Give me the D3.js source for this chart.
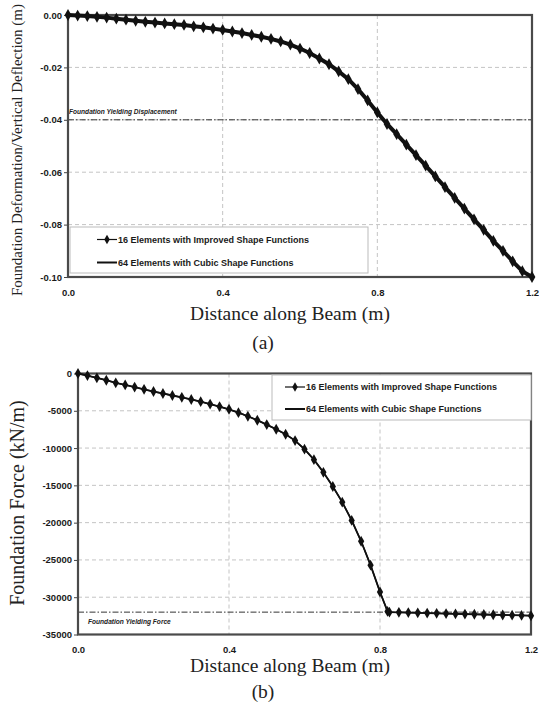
<!DOCTYPE html>
<html>
<head>
<meta charset="utf-8">
<script src="https://cdn.jsdelivr.net/npm/d3@7"></script>
<style>
  html, body { margin: 0; padding: 0; background: #fff; }
  svg { display: block; }
</style>
</head>
<body>
<svg id="chart" width="539" height="713"></svg>
<script>
// ---------------- DATA ----------------
const distanceA = [0, 0.025, 0.05, 0.075, 0.1, 0.125, 0.15, 0.175, 0.2, 0.225, 0.25, 0.275, 0.3, 0.325, 0.35, 0.375,
  0.4, 0.425, 0.45, 0.475, 0.5, 0.525, 0.55, 0.575, 0.6, 0.625, 0.65, 0.675, 0.7, 0.725, 0.75, 0.775,
  0.8, 0.825, 0.85, 0.875, 0.9, 0.925, 0.95, 0.975, 1.0, 1.025, 1.05, 1.075, 1.1, 1.125, 1.15, 1.175, 1.2];
const deflectionImproved = [0, -0.0002, -0.0004, -0.0007, -0.0010, -0.0014, -0.0018, -0.0022, -0.0026, -0.0029, -0.0032, -0.0035,
  -0.0038, -0.0043, -0.0047, -0.0052, -0.0057, -0.0063, -0.0069, -0.0076, -0.0083, -0.0091, -0.0101, -0.0113,
  -0.0128, -0.0145, -0.0166, -0.0188, -0.0215, -0.0245, -0.0283, -0.0326, -0.0372, -0.0416, -0.0455, -0.0495,
  -0.0535, -0.0575, -0.0616, -0.0657, -0.0698, -0.0739, -0.0780, -0.0820, -0.0862, -0.0900, -0.0940, -0.0978, -0.1000];
const deflectionCubic = deflectionImproved.slice();

const distanceB = [0, 0.025, 0.05, 0.075, 0.1, 0.125, 0.15, 0.175, 0.2, 0.225, 0.25, 0.275, 0.3, 0.325, 0.35, 0.375,
  0.4, 0.425, 0.45, 0.475, 0.5, 0.525, 0.55, 0.575, 0.6, 0.625, 0.65, 0.675, 0.7, 0.725, 0.75, 0.775,
  0.8, 0.82, 0.825, 0.85, 0.875, 0.9, 0.925, 0.95, 0.975, 1.0, 1.025, 1.05, 1.075, 1.1, 1.125, 1.15, 1.175, 1.2];
const forceImproved = [0, -280, -580, -900, -1250, -1530, -1820, -2120, -2420, -2680, -2950, -3200, -3480, -3780, -4100, -4440,
  -4800, -5250, -5730, -6270, -6850, -7480, -8150, -9000, -10150, -11550, -13250, -15150, -17250, -19700, -22500, -25700,
  -29300, -31900, -32000, -32030, -32060, -32100, -32130, -32160, -32200, -32230, -32260, -32290, -32320, -32350, -32380,
  -32410, -32440, -32480];
const forceCubic = forceImproved.slice();

const xTicks = [0, 0.4, 0.8, 1.2];
const yTicksA = [0, -0.02, -0.04, -0.06, -0.08, -0.10];
const yTicksB = [0, -5000, -10000, -15000, -20000, -25000, -30000, -35000];
const yieldDisplacement = -0.04;
const yieldForce = -32000;
const seriesNames = ["16 Elements with Improved Shape Functions", "64 Elements with Cubic Shape Functions"];

// ---------------- DRAW ----------------
const svg = d3.select("#chart");
const serif = "'Liberation Serif', 'Times New Roman', serif";
const sans = "'Liberation Sans', Arial, sans-serif";
const hy = f => d => f(d).replace("\u2212", "-");

function panel(cfg) {
  const g = svg.append("g");
  const x = d3.scaleLinear().domain([0, 1.2]).range([cfg.left, cfg.right]);
  const y = d3.scaleLinear().domain(cfg.yDomain).range([cfg.top, cfg.bottom]);

  // grid
  g.append("g").selectAll("line").data(xTicks.slice(1, -1)).join("line")
    .attr("x1", d => x(d)).attr("x2", d => x(d)).attr("y1", cfg.top).attr("y2", cfg.bottom)
    .attr("stroke", "#c4c4c4").attr("stroke-width", 1).attr("stroke-dasharray", "4,3");
  g.append("g").selectAll("line").data(cfg.yTicks.slice(1, -1)).join("line")
    .attr("x1", cfg.left).attr("x2", cfg.right).attr("y1", d => y(d)).attr("y2", d => y(d))
    .attr("stroke", "#c4c4c4").attr("stroke-width", 1).attr("stroke-dasharray", "4,3");

  // yield line
  g.append("line").attr("x1", cfg.left).attr("x2", cfg.right)
    .attr("y1", y(cfg.yieldVal)).attr("y2", y(cfg.yieldVal))
    .attr("stroke", "#333").attr("stroke-width", 1).attr("stroke-dasharray", "6,2,1.5,2");
  g.append("text").attr("x", cfg.yieldLabelX).attr("y", y(cfg.yieldVal) + cfg.yieldLabelDy)
    .attr("font-family", sans).attr("font-size", 6.6).attr("font-weight", "bold").attr("font-style", "italic")
    .attr("fill", "#222").text(cfg.yieldLabel);

  // axes
  const yAxis = d3.axisLeft(y).tickValues(cfg.yTicks).tickFormat(hy(cfg.yFormat)).tickSize(4).tickPadding(2);
  const ya = g.append("g").attr("transform", `translate(${cfg.left},0)`).call(yAxis);
  const xAxis = d3.axisBottom(x).tickValues(xTicks).tickFormat(d3.format(".1f")).tickSize(0).tickPadding(12);
  const xa = g.append("g").attr("transform", `translate(0,${cfg.bottom})`).call(xAxis);
  [ya, xa].forEach(a => {
    a.select(".domain").remove();
    a.selectAll("text").attr("font-family", sans).attr("font-size", 9.5).attr("font-weight", "bold").attr("fill", "#1a1a1a");
    a.selectAll("line").attr("stroke", "#444");
  });

  // frame
  g.append("rect").attr("x", cfg.left).attr("y", cfg.top)
    .attr("width", cfg.right - cfg.left).attr("height", cfg.bottom - cfg.top)
    .attr("fill", "none").attr("stroke", "#4a4a4a").attr("stroke-width", 2.2);

  // legend
  const lg = g.append("g");
  lg.append("rect").attr("x", cfg.legend.x).attr("y", cfg.legend.y).attr("width", cfg.legend.w).attr("height", cfg.legend.h)
    .attr("fill", "#fff").attr("stroke", "#bbb").attr("stroke-width", 1);
  seriesNames.forEach((name, i) => {
    const ly = cfg.legend.y + cfg.legend.row0 + i * cfg.legend.rowGap;
    const lx = cfg.legend.x + cfg.legend.sampleX;
    lg.append("line").attr("x1", lx).attr("x2", lx + 20).attr("y1", ly).attr("y2", ly)
      .attr("stroke", "#111").attr("stroke-width", i === 0 ? 1.2 : 2);
    if (i === 0) {
      lg.append("path").attr("d", d3.symbol(d3.symbolDiamond, 26)())
        .attr("transform", `translate(${lx + 10},${ly})`).attr("fill", "#111");
    }
    lg.append("text").attr("x", lx + 21).attr("y", ly + 3.3)
      .attr("font-family", sans).attr("font-size", 9).attr("font-weight", "bold").attr("fill", "#1a1a1a").text(name);
  });

  // data
  const cubicPts = cfg.xs.map((d, i) => [d, cfg.cubic[i]]);
  const impPts = cfg.xs.map((d, i) => [d, cfg.improved[i]]);
  const line = d3.line().x(d => x(d[0])).y(d => y(d[1]));
  g.append("path").datum(cubicPts).attr("d", line).attr("fill", "none").attr("stroke", "#111").attr("stroke-width", cfg.lineW);
  g.append("path").datum(impPts).attr("d", line).attr("fill", "none").attr("stroke", "#111").attr("stroke-width", 1.4);
  g.append("g").selectAll("path").data(impPts).join("path")
    .attr("d", d3.symbol(d3.symbolDiamond, cfg.markerSize)())
    .attr("transform", d => `translate(${x(d[0])},${y(d[1])})`).attr("fill", "#111");

  // titles
  g.append("text").attr("transform", `translate(${cfg.yTitleX},${cfg.yTitleY}) rotate(-90)`)
    .attr("text-anchor", "middle").attr("font-family", serif).attr("font-size", cfg.yTitleSize).attr("fill", "#222")
    .text(cfg.yTitle);
  g.append("text").attr("x", 290).attr("y", cfg.xTitleY).attr("text-anchor", "middle")
    .attr("font-family", serif).attr("font-size", 19.5).attr("fill", "#222").text("Distance along Beam (m)");
  g.append("text").attr("x", 263).attr("y", cfg.subY).attr("text-anchor", "middle")
    .attr("font-family", serif).attr("font-size", 19.5).attr("fill", "#222").text(cfg.sub);
}

panel({
  left: 68, right: 532, top: 15, bottom: 277,
  yDomain: [0, -0.1], yTicks: yTicksA, yFormat: d3.format(".2f"),
  xs: distanceA, improved: deflectionImproved, cubic: deflectionCubic,
  lineW: 4, markerSize: 40,
  yieldVal: yieldDisplacement, yieldLabel: "Foundation Yielding Displacement", yieldLabelX: 69, yieldLabelDy: -6,
  legend: { x: 70, y: 227, w: 298, h: 46, row0: 12.5, rowGap: 23, sampleX: 27 },
  yTitle: "Foundation Deformation/Vertical Deflection (m)", yTitleX: 22, yTitleY: 150, yTitleSize: 15,
  xTitleY: 320, subY: 349, sub: "(a)"
});

panel({
  left: 78, right: 531, top: 373.5, bottom: 634.5,
  yDomain: [0, -35000], yTicks: yTicksB, yFormat: d3.format("d"),
  xs: distanceB, improved: forceImproved, cubic: forceCubic,
  lineW: 1.8, markerSize: 34,
  yieldVal: yieldForce, yieldLabel: "Foundation Yielding Force", yieldLabelX: 88, yieldLabelDy: 12,
  legend: { x: 272, y: 375, w: 259, h: 45, row0: 12, rowGap: 22, sampleX: 13 },
  yTitle: "Foundation Force (kN/m)", yTitleX: 24, yTitleY: 503, yTitleSize: 20,
  xTitleY: 672, subY: 698, sub: "(b)"
});
</script>
</body>
</html>
